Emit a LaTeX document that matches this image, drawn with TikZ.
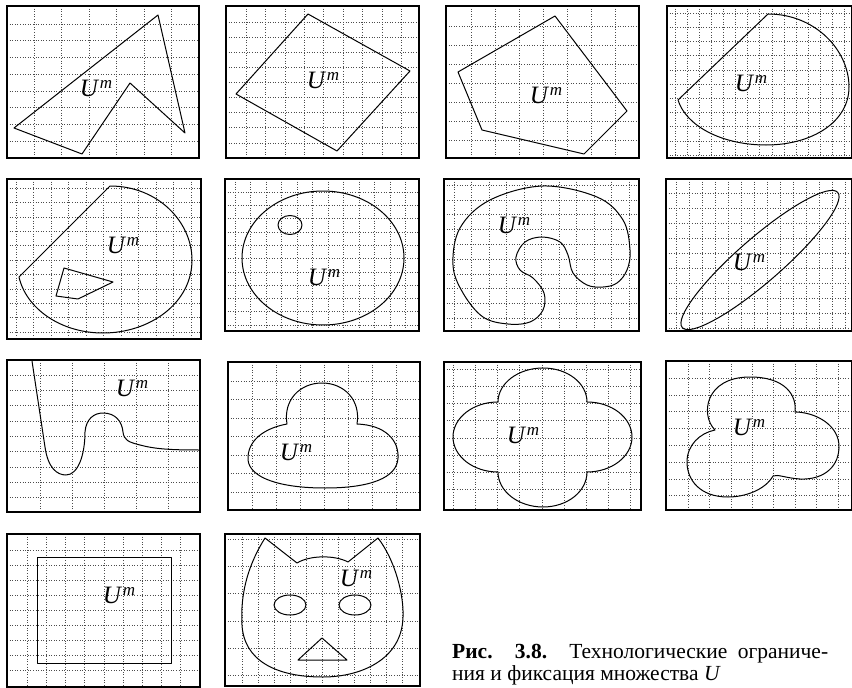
\documentclass[tikz,border=0pt]{standalone}
\usepackage{fontspec}
\setmainfont{Liberation Serif}
\usetikzlibrary{positioning}
\tikzset{
  frame/.style={draw=black, line width=1.1pt},
  gridline/.style={draw=black!70, line width=0.55pt, dash pattern=on 1pt off 1.6pt},
  border/.style={draw=black, line width=1pt, line join=round},
  setlabel/.style={inner sep=0pt, font=\fontsize{25}{25}\selectfont},
  capline/.style={inner sep=0pt, anchor=base west, font=\fontsize{21.5}{24}\selectfont}
}
\newcommand\Um{\textit{U}\kern0.5pt\raisebox{7.5pt}{\fontsize{17}{17}\selectfont\textit{m}}}
% frame with dotted grid: x0,y0,x1,y1,{grid x},{grid y}
\newcommand\gridpanel[6]{%
  \foreach \gx in {#5} {\draw[gridline] (\gx,#2) -- (\gx,#4);}
  \foreach \gy in {#6} {\draw[gridline] (#1,\gy) -- (#3,\gy);}
  \draw[frame] (#1,#2) rectangle (#3,#4);
}

\begin{document}
\begin{tikzpicture}[x=1pt,y=-1pt]
  \useasboundingbox (0,0) rectangle (852,688);

  % row 1
  \gridpanel{7}{6}{199}{158}{34,61.5,...,190}{24,40.7,...,150}
  \draw[border] (14,128) -- (158,15) -- (185,133) -- (130,83) -- (82,154) -- cycle;
  \node[setlabel] (um1) at (96,88) {\Um};

  \gridpanel{226}{6}{419}{158}{246,265.4,...,410}{22,37.1,...,150}
  \draw[border] (308,14) -- (410,71) -- (337,151) -- (236,94) -- cycle;
  \node[setlabel] (um2) at (323,80) {\Um};

  \gridpanel{446}{6}{639}{158}{471,495,...,630}{26,45,...,150}
  \draw[border] (555,16) -- (627,111) -- (584,154) -- (482,130) -- (458,72) -- cycle;
  \node[setlabel] (um3) at (546,95) {\Um};

  \gridpanel{667}{6}{852}{158}{675,687.1,...,848}{13,27.2,...,155}
  \draw[border] (678,100) -- (768,14) .. controls (815,14) and (849,50) .. (849,87)
    .. controls (849,122) and (812,145) .. (766,145)
    .. controls (722,145) and (686,126) .. (678,100) -- cycle;
  \node[setlabel] (um4) at (751,83) {\Um};

  % row 2
  \gridpanel{7}{179}{201}{339}{16,33.5,...,195}{188,202.4,...,335}
  \draw[border] (19,277) -- (110,186) .. controls (158,186) and (192,222) .. (192,260)
    .. controls (192,303) and (150,333) .. (103,333)
    .. controls (60,333) and (26,308) .. (19,277) -- cycle;
  \draw[border] (64,268) -- (113,282) -- (78,299) -- (56,296) -- cycle;
  \node[setlabel] (um5) at (123,245) {\Um};

  \gridpanel{225}{179}{419}{331}{235,250.5,...,415}{192,205.3,...,328}
  \draw[border] (323,258) ellipse [x radius=81pt, y radius=67pt];
  \draw[border] (290,225) ellipse [x radius=12pt, y radius=9.5pt];
  \node[setlabel] (um6) at (324,277) {\Um};

  \gridpanel{444}{179}{639}{331}{454,471.5,...,635}{185,199.8,...,328}
  \draw[border] plot[smooth cycle, tension=0.6] coordinates {
    (508,324) (483,317) (463,293) (453,265) (460,228) (490,200) (543,186)
    (597,197) (623,220) (630,250) (627,270) (617,283) (603,287) (587,285)
    (573,273) (568,255) (560,242) (542,237) (525,242) (516,257) (520,270)
    (533,278) (544,293) (543,310) (530,322)};
  \node[setlabel] (um7) at (514,225) {\Um};

  \gridpanel{666}{179}{852}{331}{676,689,...,848}{193,208,...,328}
  \draw[border, rotate around={41:(760,260)}] (760,260) ellipse [x radius=103pt, y radius=22pt];
  \node[setlabel] (um8) at (749,262) {\Um};

  % row 3
  \gridpanel{7}{360}{200}{512}{40,72,...,195}{375,390.3,...,508}
  \draw[border] (32,361) -- (45,447) .. controls (48,468) and (57,475) .. (66,475)
    .. controls (78,475) and (85,455) .. (85,432)
    .. controls (86,419) and (94,413) .. (103,413)
    .. controls (115,413) and (122,421) .. (123,432)
    .. controls (124,440) and (128,442) .. (140,445)
    .. controls (155,449) and (170,450) .. (200,450);
  \node[setlabel] (um9) at (132,388) {\Um};

  \gridpanel{228}{362}{420}{510}{252,276,...,415}{381,399.5,...,505}
  \draw[border] (287,424) .. controls (283,400) and (300,383) .. (322,383)
    .. controls (344,383) and (361,400) .. (357,424)
    .. controls (385,425) and (399,440) .. (398,458)
    .. controls (397,478) and (370,488) .. (325,488)
    .. controls (280,488) and (250,478) .. (248,460)
    .. controls (247,440) and (265,428) .. (287,424) -- cycle;
  \node[setlabel] (um10) at (296,452) {\Um};

  \gridpanel{444}{362}{641}{510}{453,475.2,...,635}{369,386.2,...,506}
  \draw[border] (498,402) .. controls (498,383.2) and (518.4,368) .. (543,368)
    .. controls (567.6,368) and (587,383.2) .. (587,402)
    .. controls (611.8,402) and (632,417.7) .. (632,437)
    .. controls (632,456.3) and (611.8,472) .. (587,472)
    .. controls (587,491.3) and (567.6,507) .. (543,507)
    .. controls (518.4,507) and (498,491.3) .. (498,472)
    .. controls (473.2,472) and (453,456.3) .. (453,437)
    .. controls (453,417.7) and (473.2,402) .. (498,402) -- cycle;
  \node[setlabel] (um11) at (523,435) {\Um};

  \gridpanel{666}{361}{852}{510}{688,709.4,...,848}{378,394.8,...,506}
  \draw[border] (715,430) .. controls (700,415) and (705,377) .. (750,377)
    .. controls (785,377) and (797,395) .. (795,412)
    .. controls (815,412) and (840,425) .. (839,448)
    .. controls (838,470) and (820,480) .. (800,479)
    .. controls (785,478) and (778,474) .. (773,476)
    .. controls (765,490) and (745,497) .. (728,497)
    .. controls (700,497) and (687,480) .. (687,462)
    .. controls (687,445) and (700,433) .. (715,430) -- cycle;
  \node[setlabel] (um12) at (749,427) {\Um};

  % row 4
  \gridpanel{7}{534}{200}{687}{27,46.2,...,195}{550,565,...,683}
  \draw[border] (37,557) rectangle (171,663);
  \node[setlabel] (um13) at (119,595) {\Um};

  \gridpanel{225}{534}{420}{686}{242,258,...,415}{539,566.3,...,683}
  \draw[border] (265,538) -- (297,563) .. controls (310,555) and (335,555) .. (348,562)
    -- (378,538) .. controls (395,560) and (404,595) .. (403,617)
    .. controls (402,660) and (360,677) .. (323,677)
    .. controls (275,677) and (244,660) .. (242,625)
    .. controls (240,590) and (250,562) .. (265,538) -- cycle;
  \draw[border] (290,605) ellipse [x radius=16pt, y radius=10pt];
  \draw[border] (355,605) ellipse [x radius=16pt, y radius=10pt];
  \draw[border] (322,638) -- (347,660) -- (298,660) -- cycle;
  \node[setlabel] (um14) at (356,578) {\Um};

  % caption
  \node[capline] (cap1) at (452,658)
    {\makebox[376pt][s]{\textbf{Рис. 3.8.} Технологические ограниче-}};
  \node[capline] (cap2) at (452,680) {ния и фиксация множества \textit{U}};
\end{tikzpicture}
\end{document}
